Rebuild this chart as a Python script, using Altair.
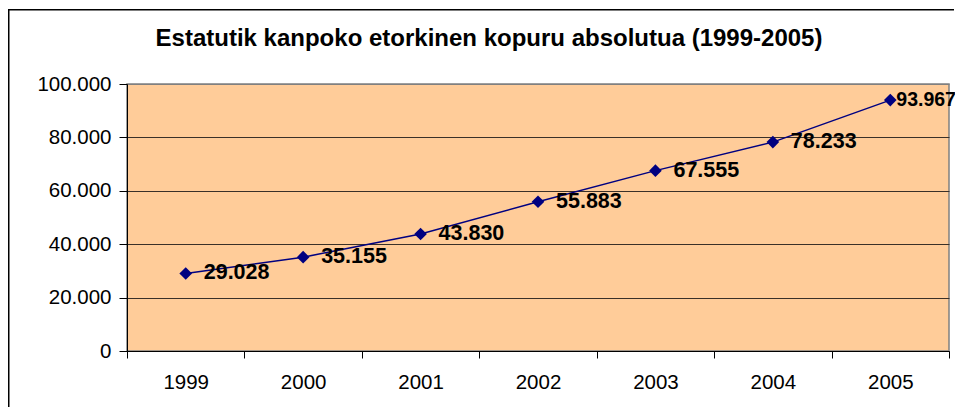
import altair as alt
import pandas as pd

years = ["1999", "2000", "2001", "2002", "2003", "2004", "2005"]
values = [29028, 35155, 43830, 55883, 67555, 78233, 93967]
y_ticks = [0, 20000, 40000, 60000, 80000, 100000]
title_text = "Estatutik kanpoko etorkinen kopuru absolutua (1999-2005)"

df = pd.DataFrame({"year": years, "value": values})

FONT = "Liberation Sans"
FMT = "replace(format(datum.value, ','), ',', '.')"

x_enc = alt.X("year:N", sort=years, title=None,
              scale=alt.Scale(paddingInner=0, paddingOuter=0),
              axis=alt.Axis(labelAngle=0, tickBand="extent", domainColor="#000000",
                            tickColor="#000000", tickSize=7, labelFontSize=20.5,
                            labelFont=FONT, labelColor="#000000", labelPadding=14,
                            grid=False, domainWidth=1))
y_enc = alt.Y("value:Q", title=None,
              scale=alt.Scale(domain=[0, 100000], nice=False),
              axis=alt.Axis(values=y_ticks, labelExpr=FMT,
                            domainColor="#000000", tickColor="#000000", tickSize=8,
                            labelFontSize=20.5, labelFont=FONT, labelColor="#000000",
                            labelPadding=8, grid=True,
                            gridColor={"condition": {"test": "datum.value == 100000", "value": "#808080"},
                                       "value": "#3a3028"},
                            gridWidth=1))

base = alt.Chart(df)

line = base.mark_line(color="#000080", strokeWidth=1.5).encode(x=x_enc, y=y_enc)
pts = base.mark_point(shape="diamond", filled=True, size=160, color="#000080", opacity=1).encode(
    x="year:N", y="value:Q")
labels = base.transform_filter("datum.year != '2005'").transform_calculate(
    lbl=FMT
).mark_text(align="left", baseline="middle", dx=18, dy=0, fontSize=21.5, fontWeight="bold",
            font=FONT, color="#000000").encode(x="year:N", y="value:Q", text="lbl:N")
label_last = base.transform_filter("datum.year == '2005'").transform_calculate(
    lbl=FMT
).mark_text(align="left", baseline="middle", dx=6, dy=0, fontSize=19.5, fontWeight="bold",
            font=FONT, color="#000000").encode(x="year:N", y="value:Q", text="lbl:N")

one = pd.DataFrame({"t": [title_text]})
title = alt.Chart(one).mark_text(align="center", baseline="alphabetic", fontSize=24,
                                 fontWeight="bold", font=FONT, color="#000000").encode(
    x=alt.value(362), y=alt.value(-38), text="t:N")

# chart-area border (top and left edges; the rest lies outside the picture)
frame_top = alt.Chart(pd.DataFrame({"a": [0]})).mark_rect(
    fill="#000000", strokeWidth=0, clip=False
).encode(x=alt.value(-119), x2=alt.value(827), y=alt.value(-75), y2=alt.value(-73.5))
frame_left = alt.Chart(pd.DataFrame({"a": [0]})).mark_rect(
    fill="#000000", strokeWidth=0, clip=False
).encode(x=alt.value(-119), x2=alt.value(-117.5), y=alt.value(-75), y2=alt.value(323))

chart = alt.layer(line, pts, labels, label_last, title, frame_top, frame_left).properties(
    width=822, height=267,
    autosize=alt.AutoSizeParams(type="none"),
    padding={"left": 119, "top": 76, "right": 6, "bottom": 57},
    background="#ffffff",
).configure_view(fill="#FFCC99", stroke="#808080", strokeWidth=1.5)

chart.save("out.html", embed_options={"renderer": "svg", "actions": False})
